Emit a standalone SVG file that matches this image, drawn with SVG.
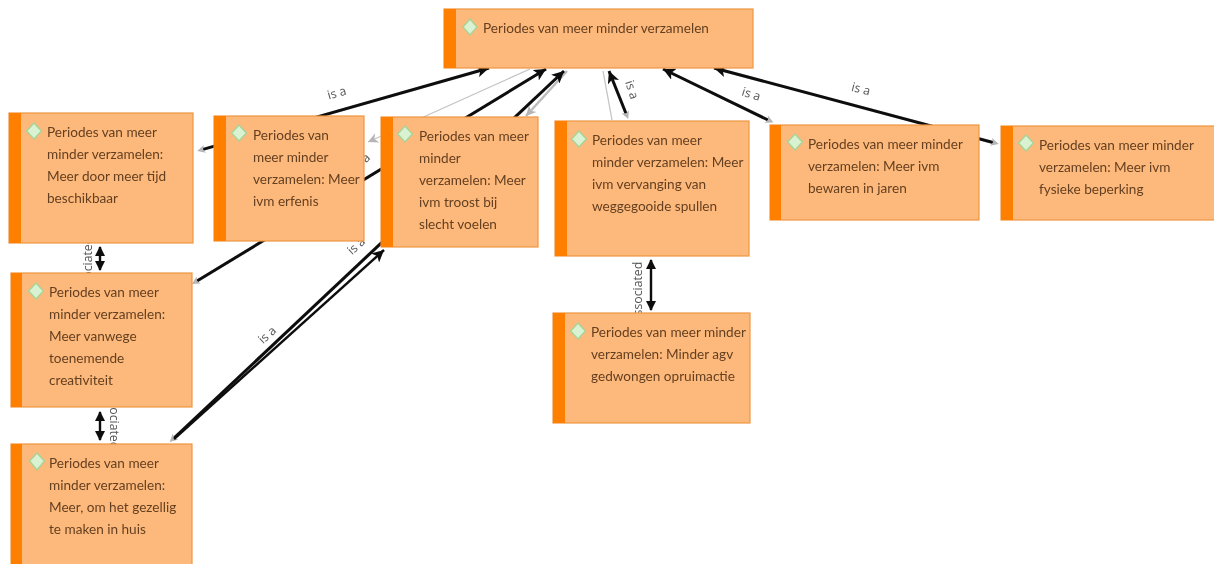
<svg xmlns="http://www.w3.org/2000/svg" width="1214" height="564" viewBox="0 0 1214 564">
<defs>
<style>
.box{fill:#fdb97b;stroke:#ee9640;stroke-width:1.2}
.bar{fill:#ff7f00}
.dia{fill:#d8f2d2;stroke:#a8d296;stroke-width:1.4}
.t{font-family:"Lato","Open Sans",sans-serif;font-size:13.6px;fill:#643f20}
.l{font-family:"Open Sans","Liberation Sans",sans-serif;font-size:12.3px;fill:#555}
.k{fill:none;stroke:#0a0a0a;stroke-width:3}
.k2{fill:none;stroke:#0a0a0a;stroke-width:2.4}
.g{fill:none;stroke:#c4c4c4;stroke-width:1.3}
.g2{fill:none;stroke:#bdbdbd;stroke-width:2.5}
</style>
<marker id="h" markerUnits="userSpaceOnUse" markerWidth="14" markerHeight="12" refX="12" refY="6" orient="auto"><path d="M0 0L12 6L0 12L3 6Z" fill="#0a0a0a"/></marker>
<marker id="d" markerUnits="userSpaceOnUse" markerWidth="12" markerHeight="12" refX="9" refY="6" orient="auto-start-reverse"><path d="M0 1L10 6L0 11Z" fill="#0a0a0a"/></marker>
<marker id="a" markerUnits="userSpaceOnUse" markerWidth="12" markerHeight="12" refX="10" refY="6" orient="auto"><path d="M0 1L10 6L0 11L3 6Z" fill="#b5b5b5"/></marker>
<marker id="s" markerUnits="userSpaceOnUse" markerWidth="12" markerHeight="12" refX="4" refY="6" orient="auto-start-reverse"><path d="M2 2L10 6L2 10L4 6Z" fill="#b5b5b5"/></marker>
<filter id="soft" x="-2%" y="-2%" width="104%" height="104%"><feGaussianBlur stdDeviation="0.35"/></filter>
</defs>
<rect width="1214" height="564" fill="#fff"/>
<g filter="url(#soft)">
<g id="connectors">
<path class="g" d="M530 69L368 142" marker-end="url(#a)"/>
<path class="g2" d="M567 71L526 116" marker-end="url(#a)"/>
<path class="g" d="M603 71L612 120"/>
<path class="k" d="M203 149.400L489 68" marker-start="url(#s)" marker-end="url(#h)"/>
<path class="k" d="M197 281L546 69" marker-start="url(#s)" marker-end="url(#h)"/>
<path class="k" d="M174 438L564 71" marker-start="url(#s)" marker-end="url(#h)"/>
<path class="k2" d="M174 439L384 250" marker-end="url(#h)"/>
<path class="k" d="M626 113.500L609 71" marker-start="url(#s)" marker-end="url(#h)"/>
<path class="k" d="M768 120L663 69" marker-start="url(#s)" marker-end="url(#h)"/>
<path class="k" d="M993 142.500L714 68" marker-start="url(#s)" marker-end="url(#h)"/>
<path class="k2" d="M100 247V270" marker-start="url(#d)" marker-end="url(#d)"/>
<path class="k2" d="M100 412V440" marker-start="url(#d)" marker-end="url(#d)"/>
<path class="k2" d="M651 260V310" marker-start="url(#d)" marker-end="url(#d)"/>
<text class="l" transform="translate(338 97) rotate(-16)" text-anchor="middle">is a</text>
<text class="l" transform="translate(628 91) rotate(72)" text-anchor="middle">is a</text>
<text class="l" transform="translate(750 98) rotate(17)" text-anchor="middle">is a</text>
<text class="l" transform="translate(860 93) rotate(14)" text-anchor="middle">is a</text>
<text class="l" transform="translate(270 338) rotate(-42)" text-anchor="middle">is a</text>
<text class="l" transform="translate(359 249) rotate(-42)" text-anchor="middle">is a</text>
<text class="l" transform="translate(364 165) rotate(-42)" text-anchor="middle">is a</text>
<text class="l" transform="translate(92 267) rotate(-90)" text-anchor="middle">associated</text>
<text class="l" transform="translate(110 419) rotate(90)" text-anchor="middle">associated</text>
<text class="l" transform="translate(642 292) rotate(-90)" text-anchor="middle">associated</text>
</g>
<g id="n0"><rect class="box" x="444" y="9" width="309" height="59"/><rect class="bar" x="444" y="9" width="12" height="59"/><path class="dia" d="M470 19L477 27L470 35L463 27Z"/><text class="t" x="483" y="33">Periodes van meer minder verzamelen</text></g>
<g id="n1"><rect class="box" x="9" y="113" width="184" height="130"/><rect class="bar" x="9" y="113" width="12" height="130"/><path class="dia" d="M34 123L41.500 131L34 139L26.500 131Z"/><text class="t" x="47" y="137">Periodes van meer</text><text class="t" x="47" y="159">minder verzamelen:</text><text class="t" x="47" y="181">Meer door meer tijd</text><text class="t" x="47" y="203">beschikbaar</text></g>
<g id="n2"><rect class="box" x="214" y="116" width="150" height="125"/><rect class="bar" x="214" y="116" width="12" height="125"/><path class="dia" d="M239 125L246.500 133L239 141L231.500 133Z"/><text class="t" x="253" y="140">Periodes van</text><text class="t" x="253" y="162">meer minder</text><text class="t" x="253" y="184">verzamelen: Meer</text><text class="t" x="253" y="206">ivm erfenis</text></g>
<g id="n3"><rect class="box" x="381" y="117" width="157" height="130"/><rect class="bar" x="381" y="117" width="12" height="130"/><path class="dia" d="M405 126L412.500 134L405 142L397.500 134Z"/><text class="t" x="419" y="141">Periodes van meer</text><text class="t" x="419" y="163">minder</text><text class="t" x="419" y="185">verzamelen: Meer</text><text class="t" x="419" y="207">ivm troost bij</text><text class="t" x="419" y="229">slecht voelen</text></g>
<g id="n4"><rect class="box" x="555" y="121" width="194" height="135"/><rect class="bar" x="555" y="121" width="12" height="135"/><path class="dia" d="M579 131L586.500 139L579 147L571.500 139Z"/><text class="t" x="592" y="145">Periodes van meer</text><text class="t" x="592" y="167">minder verzamelen: Meer</text><text class="t" x="592" y="189">ivm vervanging van</text><text class="t" x="592" y="211">weggegooide spullen</text></g>
<g id="n5"><rect class="box" x="770" y="125" width="209" height="95"/><rect class="bar" x="770" y="125" width="11" height="95"/><path class="dia" d="M795 134L802.500 142L795 150L787.500 142Z"/><text class="t" x="808" y="149">Periodes van meer minder</text><text class="t" x="808" y="171">verzamelen: Meer ivm</text><text class="t" x="808" y="193">bewaren in jaren</text></g>
<g id="n6"><rect class="box" x="1001" y="126" width="214" height="94"/><rect class="bar" x="1001" y="126" width="12" height="94"/><path class="dia" d="M1026 135L1033.500 143L1026 151L1018.500 143Z"/><text class="t" x="1039" y="150">Periodes van meer minder</text><text class="t" x="1039" y="172">verzamelen: Meer ivm</text><text class="t" x="1039" y="194">fysieke beperking</text></g>
<g id="n7"><rect class="box" x="11" y="273" width="181" height="134"/><rect class="bar" x="11" y="273" width="11" height="134"/><path class="dia" d="M36 283L43.500 291L36 299L28.500 291Z"/><text class="t" x="49" y="297">Periodes van meer</text><text class="t" x="49" y="319">minder verzamelen:</text><text class="t" x="49" y="341">Meer vanwege</text><text class="t" x="49" y="363">toenemende</text><text class="t" x="49" y="385">creativiteit</text></g>
<g id="n8"><rect class="box" x="11" y="444" width="181" height="130"/><rect class="bar" x="11" y="444" width="11" height="130"/><path class="dia" d="M37 453L44.500 461L37 470L29.500 461Z"/><text class="t" x="49" y="468">Periodes van meer</text><text class="t" x="49" y="490">minder verzamelen:</text><text class="t" x="49" y="512">Meer, om het gezellig</text><text class="t" x="49" y="534">te maken in huis</text></g>
<g id="n9"><rect class="box" x="553" y="313" width="197" height="110"/><rect class="bar" x="553" y="313" width="12" height="110"/><path class="dia" d="M578 323L585.500 331L578 339L570.500 331Z"/><text class="t" x="591" y="337">Periodes van meer minder</text><text class="t" x="591" y="359">verzamelen: Minder agv</text><text class="t" x="591" y="381">gedwongen opruimactie</text></g>
</g>
</svg>
